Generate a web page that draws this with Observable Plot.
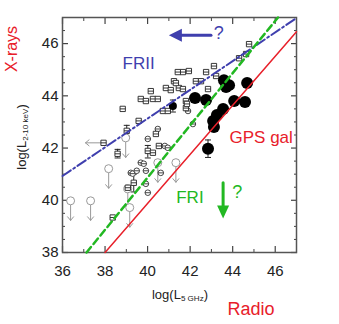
<!DOCTYPE html>
<html><head><meta charset="utf-8">
<script src="https://cdn.jsdelivr.net/npm/d3@7"></script>
<script src="https://cdn.jsdelivr.net/npm/@observablehq/plot@0.6"></script>
<style>
body{margin:0;background:#fff;font-family:"Liberation Sans",Arial,sans-serif;}
#wrap{position:relative;width:339px;height:324px;}
.lab{position:absolute;white-space:nowrap;transform:translate(-50%,-50%);}
.rot{transform:translate(-50%,-50%) rotate(-90deg);}
sub{font-size:0.62em;vertical-align:-0.25em;}
</style>
</head><body>
<div id="wrap">
<div id="chart"></div>
<div class="lab rot" style="left:12px;top:49px;color:#e8202a;font-size:16px;">X-rays</div>
<div class="lab rot" style="left:22px;top:137px;color:#222;font-size:13px;">log(L<sub>2-10 keV</sub>)</div>
<div class="lab" style="left:180px;top:295px;color:#222;font-size:13px;">log(L<sub>5 GHz</sub>)</div>
<div class="lab" style="left:251px;top:309px;color:#e8202a;font-size:18px;">Radio</div>
</div>
<script>
// Axis ticks
const xTicks = [36, 38, 40, 42, 44, 46];
const xMinor = [37, 39, 41, 43, 45, 47];
const yTicks = [38, 40, 42, 44, 46];
const yMinor = [38.5, 39, 39.5, 40.5, 41, 41.5, 42.5, 43, 43.5, 44.5, 45, 45.5, 46.5, 47];

// FRII (open squares)
const friiX = [44.77, 44.63, 44.30, 43.12, 43.22, 41.94, 41.66, 41.42, 42.75, 42.27, 42.51, 41.24, 40.86, 41.09, 41.47, 41.66, 40.15, 42.84, 39.68, 39.92, 40.25, 40.48, 38.83, 41.80, 41.80, 40.72, 39.58, 41.33, 39.02, 38.59, 40.39, 40.01, 40.25, 40.53, 41.85, 40.95, 38.36, 39.35, 39.07];
const friiY = [45.98, 45.60, 45.44, 45.14, 44.76, 44.95, 44.91, 44.91, 44.91, 44.56, 44.56, 44.56, 44.30, 44.22, 44.30, 44.26, 44.18, 44.26, 43.88, 43.80, 43.88, 43.88, 43.50, 43.80, 43.53, 43.42, 43.04, 44.49, 42.66, 41.78, 42.54, 41.89, 41.82, 42.08, 43.69, 43.42, 39.34, 40.67, 40.48];

// FRI (small circles)
const friX = [40.01, 40.48, 40.81, 40.95, 39.68, 39.82, 39.92, 39.21, 39.30, 39.49, 39.92, 40.01, 41.90, 42.13, 40.62];
const friY = [42.35, 42.73, 42.08, 42.01, 41.44, 41.40, 41.13, 41.05, 41.02, 41.13, 40.63, 40.29, 43.42, 42.92, 41.05];

// GPS galaxies (filled circles)
const gpsX = [43.59, 43.83, 43.69, 44.68, 42.23, 42.75, 44.07, 44.58, 43.55, 43.26, 43.08, 43.12, 42.84];
const gpsY = [44.60, 44.41, 44.34, 44.49, 43.92, 43.84, 43.80, 43.76, 43.50, 43.27, 43.04, 42.81, 41.97];
const smallFilledX = [41.19];
const smallFilledY = [43.61];

// Upper limits in X-ray (circle + down arrow)
const ulX = [36.38, 37.32, 38.17, 38.97, 39.07, 40.48, 41.33, 39.16];
const ulY = [39.98, 39.98, 41.21, 42.39, 40.44, 41.44, 41.44, 39.72];
// Upper limit in radio (left arrow)
const llX = [37.93];
const llY = [42.20];

// Error bars
const errX  = [42.84, 41.19, 39.02, 38.59, 39.35, 40.01];
const errLo = [41.64, 43.38, 42.45, 41.62, 40.32, 41.62];
const errHi = [42.31, 43.84, 42.87, 41.95, 41.00, 42.10];

// Correlation lines
const friiLineX = [36, 47], friiLineY = [40.93, 46.98];
const friLineX = [37.13, 46.13], friLineY = [38, 47];
const gpsLineX = [38, 47], gpsLineY = [38, 46.45];

const zip = (xs, ys) => xs.map((x, i) => ({x, y: ys[i]}));
const frii = zip(friiX, friiY), fri = zip(friX, friY), gps = zip(gpsX, gpsY);
const ul = zip(ulX, ulY), ll = zip(llX, llY);
const err = errX.map((x, i) => ({x, lo: errLo[i], hi: errHi[i]}));

const squareMinus = {draw(c, size){const s = Math.sqrt(size)/2; c.moveTo(-s,-s); c.lineTo(s,-s); c.lineTo(s,s); c.lineTo(-s,s); c.closePath(); c.moveTo(-s,0); c.lineTo(s,0);}};
const circleMinus = {draw(c, size){const r = Math.sqrt(size/Math.PI); c.moveTo(r,0); c.arc(0,0,r,0,2*Math.PI); c.moveTo(-r,0); c.lineTo(r,0);}};
const hcap = {draw(c){c.moveTo(-3,0); c.lineTo(3,0);}};
const headLeft = {draw(c){c.moveTo(0,0); c.lineTo(13,-6.5); c.lineTo(13,6.5); c.closePath();}};
const headDown = {draw(c){c.moveTo(0,0); c.lineTo(-6,-13); c.lineTo(6,-13); c.closePath();}};

const blue = "#3f3fae", green = "#22b822", red = "#e8202a";

const chart = Plot.plot({
  width: 339, height: 324,
  marginLeft: 62, marginRight: 43, marginTop: 17, marginBottom: 72,
  x: {domain: [36, 47]},
  y: {domain: [38, 47]},
  style: {fontFamily: "'Liberation Sans', Arial, sans-serif", background: "#fff"},
  marks: [
    // ticks (inward) on all sides
    Plot.axisX({anchor: "bottom", ticks: xTicks, tickSize: -6, tickFormat: () => "", label: null, stroke: "#444", strokeWidth: 1.2}),
    Plot.axisX({anchor: "bottom", ticks: xMinor, tickSize: -3, tickFormat: () => "", label: null, stroke: "#444"}),
    Plot.axisX({anchor: "top", ticks: xTicks, tickSize: -6, tickFormat: () => "", label: null, stroke: "#444", strokeWidth: 1.2}),
    Plot.axisX({anchor: "top", ticks: xMinor, tickSize: -3, tickFormat: () => "", label: null, stroke: "#444"}),
    Plot.axisY({anchor: "left", ticks: yTicks, tickSize: -6, tickFormat: () => "", label: null, stroke: "#444", strokeWidth: 1.2}),
    Plot.axisY({anchor: "left", ticks: yMinor, tickSize: -3, tickFormat: () => "", label: null, stroke: "#444"}),
    Plot.axisY({anchor: "right", ticks: yTicks, tickSize: -6, tickFormat: () => "", label: null, stroke: "#444", strokeWidth: 1.2}),
    Plot.axisY({anchor: "right", ticks: yMinor, tickSize: -3, tickFormat: () => "", label: null, stroke: "#444"}),
    // tick labels
    Plot.axisX({anchor: "bottom", ticks: xTicks, tickSize: 0, tickPadding: 13, label: null, fontSize: 15, fill: "#222"}),
    Plot.axisY({anchor: "left", ticks: yTicks, tickSize: 0, tickPadding: 4, label: null, fontSize: 15, fill: "#222"}),
    Plot.frame({stroke: "#555", strokeWidth: 1.5}),

    // error bars
    Plot.ruleX(err, {x: "x", y1: "lo", y2: "hi", stroke: "#222", strokeWidth: 1}),
    Plot.dot(err, {x: "x", y: "lo", symbol: hcap, stroke: "#222", strokeWidth: 1}),
    Plot.dot(err, {x: "x", y: "hi", symbol: hcap, stroke: "#222", strokeWidth: 1}),

    // upper limits
    Plot.arrow(ul, {x1: "x", x2: "x", y1: d => d.y - 0.16, y2: d => d.y - 0.75, stroke: "#999", strokeWidth: 1, headLength: 7, headAngle: 80}),
    Plot.dot(ul, {x: "x", y: "y", r: 4, stroke: "#999", fill: "white", strokeWidth: 1}),
    Plot.arrow(ll, {x1: d => d.x - 0.1, x2: d => d.x - 0.85, y1: "y", y2: "y", stroke: "#999", strokeWidth: 1, headLength: 7, headAngle: 80}),

    // FRI small circles
    Plot.dot(fri, {x: "x", y: "y", r: 2.8, symbol: circleMinus, stroke: "#333", fill: "white", strokeWidth: 0.9}),
    // FRII squares
    Plot.dot(frii.concat(ll), {x: "x", y: "y", r: 3, symbol: squareMinus, stroke: "#222", fill: "white", strokeWidth: 0.9}),
    // GPS galaxies
    Plot.dot(gps, {x: "x", y: "y", r: 6, fill: "#000"}),
    Plot.dot(zip(smallFilledX, smallFilledY), {x: "x", y: "y", r: 4, fill: "#000"}),

    // correlation lines
    Plot.line(zip(friiLineX, friiLineY), {x: "x", y: "y", stroke: blue, strokeWidth: 2, strokeDasharray: "10,3,2,3"}),
    Plot.line(zip(friLineX, friLineY), {x: "x", y: "y", stroke: green, strokeWidth: 2.5, strokeDasharray: "7,4"}),
    Plot.line(zip(gpsLineX, gpsLineY), {x: "x", y: "y", stroke: red, strokeWidth: 1.5}),

    // annotations
    Plot.text(["FRII"], {x: 39.58, y: 45.25, text: d => d, fill: blue, fontSize: 17}),
    Plot.line([{x: 41.4, y: 46.32}, {x: 42.98, y: 46.32}], {x: "x", y: "y", stroke: blue, strokeWidth: 3}),
    Plot.dot([{x: 41.0, y: 46.32}], {x: "x", y: "y", symbol: headLeft, fill: blue}),
    Plot.text(["?"], {x: 43.35, y: 46.38, text: d => d, fill: blue, fontSize: 18}),
    Plot.text(["GPS gal"], {x: 45.34, y: 42.39, text: d => d, fill: red, fontSize: 17}),
    Plot.text(["FRI"], {x: 41.99, y: 40.1, text: d => d, fill: green, fontSize: 17}),
    Plot.line([{x: 43.55, y: 40.67}, {x: 43.55, y: 39.7}], {x: "x", y: "y", stroke: green, strokeWidth: 3}),
    Plot.dot([{x: 43.55, y: 39.30}], {x: "x", y: "y", symbol: headDown, fill: green}),
    Plot.text(["?"], {x: 44.22, y: 40.3, text: d => d, fill: green, fontSize: 18})
  ]
});
document.getElementById("chart").appendChild(chart);
</script>
</body></html>
